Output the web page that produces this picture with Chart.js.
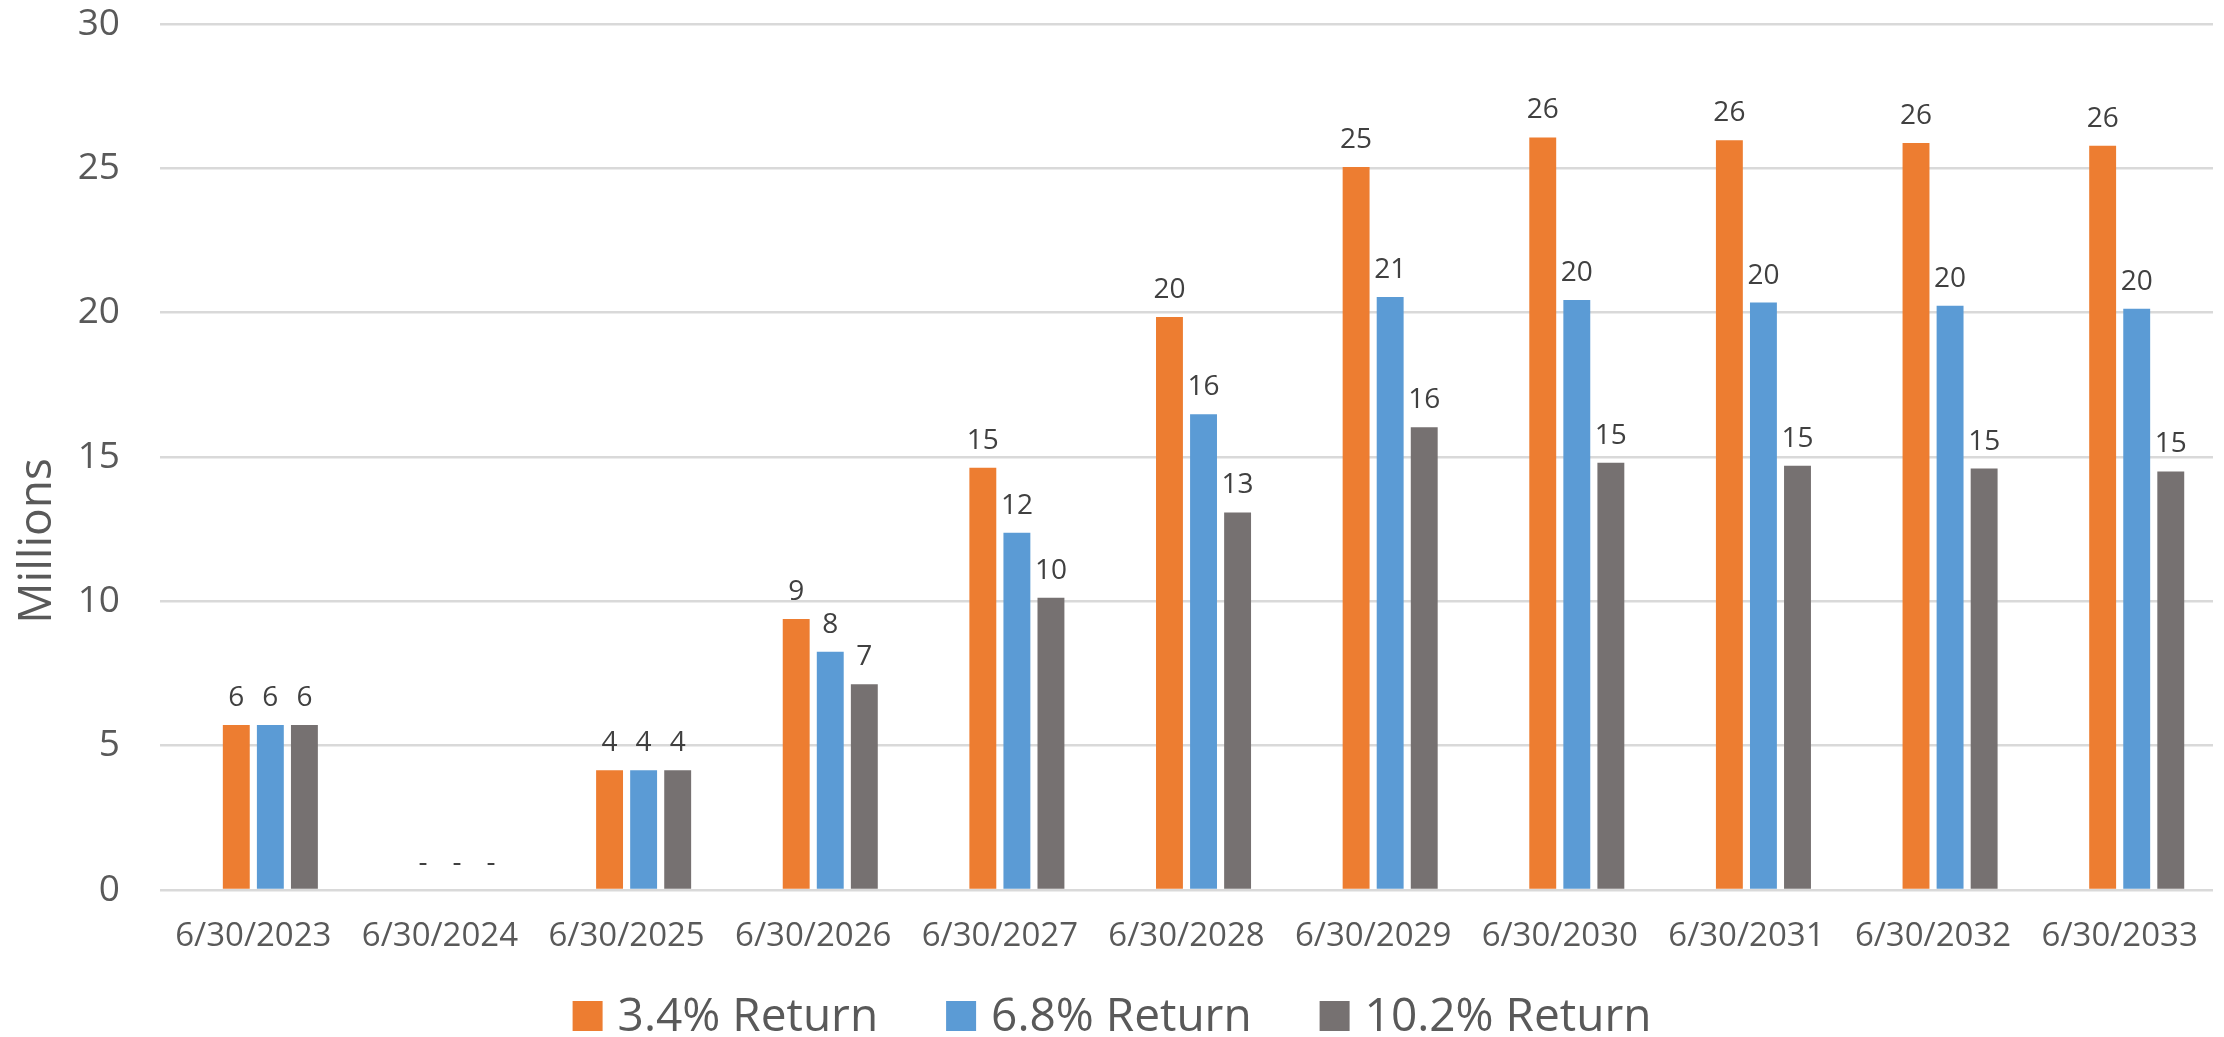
<!DOCTYPE html>
<html>
<head>
<meta charset="utf-8">
<title>Projected balance by return scenario</title>
<script src="https://cdn.jsdelivr.net/npm/chart.js@4.4.1/dist/chart.umd.min.js"></script>
<style>
    html, body { margin: 0; padding: 0; background: #fff; }
    #wrap { width: 2224px; height: 1037px; }
</style>
</head>
<body>
<div id="wrap"><canvas id="returnChart" width="2224" height="1037"></canvas></div>
<script>
const categories = ['6/30/2023', '6/30/2024', '6/30/2025', '6/30/2026', '6/30/2027', '6/30/2028',
    '6/30/2029', '6/30/2030', '6/30/2031', '6/30/2032', '6/30/2033'];

const seriesNames = ['3.4% Return', '6.8% Return', '10.2% Return'];
const seriesColors = ['#ED7D31', '#5B9BD5', '#767171'];

// values in millions
const return34 = [5.72, 0, 4.15, 9.39, 14.63, 19.85, 25.05, 26.07, 25.97, 25.88, 25.78];
const return68 = [5.72, 0, 4.15, 8.25, 12.38, 16.48, 20.54, 20.44, 20.35, 20.24, 20.14];
const return102 = [5.72, 0, 4.15, 7.13, 10.12, 13.08, 16.03, 14.80, 14.70, 14.60, 14.50];

// the source workbook has an empty first series; it still takes the first slot in every group
const emptySeries = categories.map(() => null);

const yMin = 0;
const yMax = 30;
const yStep = 5;
const yTitle = 'Millions';

const textColor = '#595959';
const labelColor = '#404040';
const fontFamily = "'Open Sans', 'Noto Sans', sans-serif";

function formatLabel(value) {
    const rounded = Math.round(value);
    return rounded === 0 ? '-' : String(rounded);
}

const excelExtras = {
    id: 'excelExtras',
    afterDatasetsDraw(chart) {
        const ctx = chart.ctx;
        ctx.save();
        ctx.font = `28px ${fontFamily}`;
        ctx.fillStyle = labelColor;
        ctx.textAlign = 'center';
        ctx.textBaseline = 'alphabetic';
        chart.data.datasets.forEach((ds, i) => {
            if (ds.spacer) return;
            chart.getDatasetMeta(i).data.forEach((bar, j) => {
                ctx.fillText(formatLabel(ds.data[j]), bar.x, bar.y - 19);
            });
        });
        ctx.restore();
    },
    afterDraw(chart) {
        const ctx = chart.ctx;
        ctx.save();

        // axis title, sits lower than the middle of the axis like in the original
        ctx.font = `46px ${fontFamily}`;
        ctx.fillStyle = textColor;
        ctx.translate(38, 541);
        ctx.rotate(-Math.PI / 2);
        ctx.textAlign = 'center';
        ctx.textBaseline = 'middle';
        ctx.fillText(yTitle, 0, 0);
        ctx.setTransform(1, 0, 0, 1, 0, 0);

        // legend row
        const box = 30, boxGap = 15, itemGap = 68;
        const baseline = chart.height - 6;
        ctx.font = `46px ${fontFamily}`;
        ctx.textAlign = 'left';
        ctx.textBaseline = 'alphabetic';
        const widths = seriesNames.map(n => ctx.measureText(n).width);
        const total = widths.reduce((s, w) => s + box + boxGap + w, 0) + itemGap * (seriesNames.length - 1);
        let x = chart.width / 2 - total / 2;
        seriesNames.forEach((name, i) => {
            ctx.fillStyle = seriesColors[i];
            ctx.fillRect(x, baseline - box, box, box);
            ctx.fillStyle = textColor;
            ctx.fillText(name, x + box + boxGap, baseline);
            x += box + boxGap + widths[i] + itemGap;
        });
        ctx.restore();
    }
};

const seriesData = [return34, return68, return102];

const datasets = [{
    label: '',
    spacer: true,
    data: emptySeries,
    backgroundColor: 'rgba(0,0,0,0)'
}].concat(seriesNames.map((name, i) => ({
    label: name,
    data: seriesData[i],
    backgroundColor: seriesColors[i],
    borderWidth: 0
})));

Chart.defaults.font.family = fontFamily;
Chart.defaults.color = textColor;

new Chart(document.getElementById('returnChart').getContext('2d'), {
    type: 'bar',
    data: {
        labels: categories,
        datasets: datasets
    },
    options: {
        responsive: false,
        animation: false,
        devicePixelRatio: 1,
        barPercentage: 0.79,
        categoryPercentage: 0.73,
        layout: {
            padding: 0
        },
        plugins: {
            legend: { display: false },
            tooltip: { enabled: false }
        },
        scales: {
            x: {
                // room for the tick labels plus the legend row underneath
                afterFit(scale) {
                    scale.height = 147;
                    scale.paddingLeft = 0;
                    scale.paddingRight = 11;
                },
                grid: { display: false, drawTicks: false },
                border: { display: false },
                ticks: {
                    color: textColor,
                    font: { size: 33 },
                    padding: 27,
                    maxRotation: 0,
                    autoSkip: false
                }
            },
            y: {
                min: yMin,
                max: yMax,
                afterFit(scale) {
                    scale.width = 160;
                    scale.paddingTop = 24;
                    scale.paddingBottom = 0;
                },
                grid: {
                    color: '#D9D9D9',
                    lineWidth: 2.5,
                    drawTicks: false
                },
                border: { display: false },
                ticks: {
                    stepSize: yStep,
                    color: textColor,
                    font: { size: 37 },
                    padding: 40
                }
            }
        }
    },
    plugins: [excelExtras]
});
</script>
</body>
</html>
